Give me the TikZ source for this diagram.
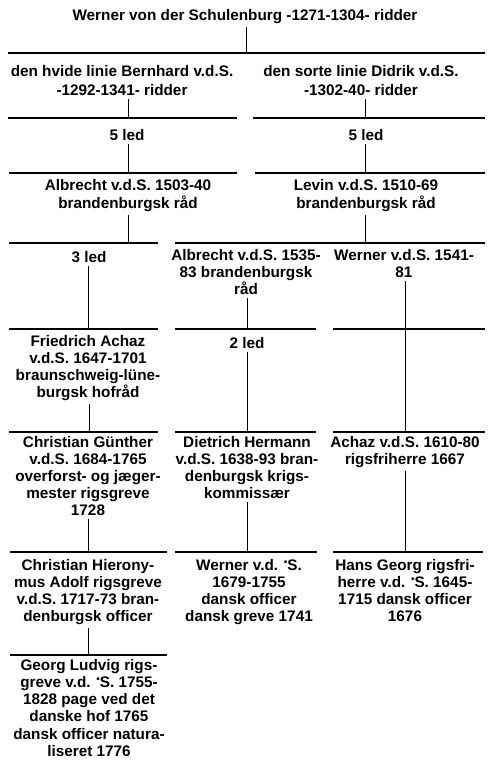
\documentclass[tikz,border=0pt]{standalone}
\usepackage{fontspec}
\setmainfont{Liberation Sans}
\newfontfamily\labelfont{Liberation Sans Bold}
\newcommand\sdot{\raisebox{5pt}{\fontsize{10}{10}\selectfont •}}
\begin{document}
\begin{tikzpicture}[x=1pt,y=-1pt,
  lbl/.style={inner sep=0pt, anchor=north, align=center,
    font=\labelfont\fontsize{15.3}{17}\selectfont, execute at begin node=\rule{0pt}{13pt}},
  bar/.style={line width=1.4pt},
  link/.style={line width=0.9pt, shorten <=3.5pt}]
\useasboundingbox (0,0) rectangle (491,761);

% ---------- text nodes ----------
\node[lbl] (title) at (245,7) {Werner von der Schulenburg -1271-1304- ridder};
\node[lbl, font=\labelfont\fontsize{15.3}{19}\selectfont] (n2L) at (122,65) {den hvide linie Bernhard v.d.S.\\-1292-1341- ridder};
\node[lbl, font=\labelfont\fontsize{15.3}{19}\selectfont] (n2R) at (361,65) {den sorte linie Didrik v.d.S.\\-1302-40- ridder};
\node[lbl] (led5L) at (127,127) {5 led};
\node[lbl] (led5R) at (366,127) {5 led};
\node[lbl, font=\labelfont\fontsize{15.3}{18}\selectfont] (albL) at (128,179) {Albrecht v.d.S. 1503-40\\brandenburgsk råd};
\node[lbl, font=\labelfont\fontsize{15.3}{18}\selectfont] (levin) at (366,179) {Levin v.d.S. 1510-69\\brandenburgsk råd};
\node[lbl] (led3) at (89,249) {3 led};
\node[lbl] (alb2) at (246,249) {Albrecht v.d.S. 1535-\\83 brandenburgsk\\råd};
\node[lbl] (wer81) at (404,249) {Werner v.d.S. 1541-\\81};
\node[lbl] (fried) at (88,335) {Friedrich Achaz\\v.d.S. 1647-1701\\braunschweig-lüne-\\burgsk hofråd};
\node[lbl] (led2) at (247,335) {2 led};
\node[lbl] (christ) at (88,436) {Christian Günther\\v.d.S. 1684-1765\\overforst- og jæger-\\mester rigsgreve\\1728};
\node[lbl] (dietr) at (247,436) {Dietrich Hermann\\v.d.S. 1638-93 bran-\\denburgsk krigs-\\kommissær};
\node[lbl] (achaz) at (405,436) {Achaz v.d.S. 1610-80\\rigsfriherre 1667};
\node[lbl] (hier) at (88,559) {Christian Hierony-\\mus Adolf rigsgreve\\v.d.S. 1717-73 bran-\\denburgsk officer};
\node[lbl] (wer2) at (249,559) {Werner v.d. \sdot S.\\1679-1755\\dansk officer\\dansk greve 1741};
\node[lbl] (hans) at (405,559) {Hans Georg rigsfri-\\herre v.d. \sdot S. 1645-\\1715 dansk officer\\1676};
\node[lbl, font=\labelfont\fontsize{15.3}{17.2}\selectfont] (georg) at (89,659) {Georg Ludvig rigs-\\greve v.d. \sdot S. 1755-\\1828 page ved det\\danske hof 1765\\dansk officer natura-\\liseret 1776};

% ---------- bars and junctions ----------
\coordinate (b1a) at (8,53);   \coordinate (b1b) at (485,53);  \coordinate (j1) at (246,53);
\coordinate (b2La) at (8,118); \coordinate (b2Lb) at (237,118); \coordinate (j2L) at (128,118);
\coordinate (b2Ra) at (253,118); \coordinate (b2Rb) at (485,118); \coordinate (j2R) at (365,118);
\coordinate (b3La) at (9,173); \coordinate (b3Lb) at (237,173); \coordinate (j3L) at (128,173);
\coordinate (b3Ra) at (255,173); \coordinate (b3Rb) at (485,173); \coordinate (j3R) at (365,173);
\coordinate (b4La) at (9,243); \coordinate (b4Lb) at (158,243); \coordinate (j4L) at (128,243);
\coordinate (b4Ra) at (175,243); \coordinate (b4Rb) at (485,243); \coordinate (j4R) at (365,243);
\coordinate (b5La) at (9,329); \coordinate (b5Lb) at (158,329); \coordinate (j5L) at (88,329);
\coordinate (b5Ma) at (175,329); \coordinate (b5Mb) at (316,329); \coordinate (j5M) at (247,329);
\coordinate (b5Ra) at (333,329); \coordinate (b5Rb) at (485,329); \coordinate (j5R) at (405,329);
\coordinate (b6La) at (9,432); \coordinate (b6Lb) at (158,432); \coordinate (j6L) at (89,432);
\coordinate (b6Ma) at (175,432); \coordinate (b6Mb) at (316,432); \coordinate (j6M) at (247,432);
\coordinate (b6Ra) at (333,432); \coordinate (b6Rb) at (485,432); \coordinate (j6R) at (405,432);
\coordinate (b7La) at (10,552); \coordinate (b7Lb) at (167,552); \coordinate (j7L) at (88,552);
\coordinate (b7Ma) at (175,552); \coordinate (b7Mb) at (317,552); \coordinate (j7M) at (247,552);
\coordinate (b7Ra) at (333,552); \coordinate (b7Rb) at (483,552); \coordinate (j7R) at (405,552);
\coordinate (b8La) at (10,655); \coordinate (b8Lb) at (167,655); \coordinate (j8L) at (88,655);

\foreach \b in {b1,b2L,b2R,b3L,b3R,b4L,b4R,b5L,b5M,b5R,b6L,b6M,b6R,b7L,b7M,b7R,b8L}
  \draw[bar] (\b a) -- (\b b);

% ---------- connectors ----------
\draw[link] (title.south -| j1) -- (j1);
\draw[link] (n2L.south -| j2L) -- (j2L);
\draw[link] (n2R.south -| j2R) -- (j2R);
\draw[link] (led5L.south -| j3L) -- (j3L);
\draw[link] (led5R.south -| j3R) -- (j3R);
\draw[link] (albL.south -| j4L) -- (j4L);
\draw[link] (levin.south -| j4R) -- (j4R);
\draw[link] (led3.south -| j5L) -- (j5L);
\draw[link] (alb2.south -| j5M) -- (j5M);
\draw[link] (wer81.south -| j5R) -- (j5R);
\draw[link] (fried.south -| j6L) -- (j6L);
\draw[link] (led2.south -| j6M) -- (j6M);
\draw[link, shorten <=0pt] (j5R) -- (j6R);
\draw[link] (christ.south -| j7L) -- (j7L);
\draw[link] (dietr.south -| j7M) -- (j7M);
\draw[link] (achaz.south -| j7R) -- (j7R);
\draw[link] (hier.south -| j8L) -- (j8L);
\end{tikzpicture}
\end{document}
